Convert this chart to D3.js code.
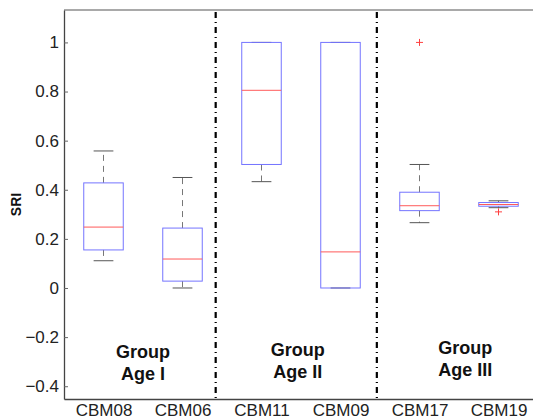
<!DOCTYPE html>
<html>
<head>
<meta charset="utf-8">
<script src="https://cdn.jsdelivr.net/npm/d3@7"></script>
<style>
  html, body { margin: 0; padding: 0; background: #fff; }
  svg { display: block; font-family: "Liberation Sans", Arial, Helvetica, sans-serif; }
</style>
</head>
<body>
<svg id="chart" width="533" height="419"></svg>
<script>
// Box plot summaries of SRI per specimen
const categories  = ["CBM08", "CBM06", "CBM11", "CBM09", "CBM17", "CBM19"];
const whiskerLow  = [0.111, 0.000, 0.433, 0.000, 0.266, 0.327];
const q1          = [0.155, 0.028, 0.503, 0.000, 0.315, 0.333];
const median      = [0.248, 0.118, 0.805, 0.147, 0.335, 0.340];
const q3          = [0.428, 0.244, 1.000, 1.000, 0.390, 0.348];
const whiskerHigh = [0.558, 0.450, 1.000, 1.000, 0.503, 0.355];
const outliers    = [[], [], [], [], [1.0], [0.31]];

const yTicks = [-0.4, -0.2, 0, 0.2, 0.4, 0.6, 0.8, 1];
const yLabel = "SRI";

// Group separators and group captions (in data units)
const separators  = [2.42, 4.46];
const groupNames  = [["Group", "Age I"], ["Group", "Age II"], ["Group", "Age III"]];
const groupX      = [1.5, 3.46, 5.58];
const groupY      = [-0.285, -0.275, -0.27];

const svg = d3.select("#chart");
const mLeft = 64, mRight = 538, mTop = 10, mBottom = 399;

const x = d3.scaleLinear().domain([0.5, categories.length + 0.5]).range([mLeft, mRight]);
const y = d3.scaleLinear().domain([-0.452, 1.132]).range([mBottom, mTop]);

const boxW = 0.5, capW = 0.25;
const rows = categories.map((c, i) => ({
  name: c, pos: i + 1,
  lo: whiskerLow[i], q1: q1[i], med: median[i], q3: q3[i], hi: whiskerHigh[i],
  out: outliers[i]
}));

// Axes frame
const frame = svg.append("g");
frame.append("line").attr("x1", mLeft).attr("x2", mRight).attr("y1", mTop).attr("y2", mTop)
  .attr("stroke", "#555").attr("stroke-width", 1.2);
frame.append("line").attr("x1", mRight).attr("x2", mRight).attr("y1", mTop).attr("y2", mBottom)
  .attr("stroke", "#555").attr("stroke-width", 1.2);

// Left y axis, ticks pointing inward
const yAxis = d3.axisLeft(y).tickValues(yTicks).tickSizeInner(-4).tickSizeOuter(0)
  .tickPadding(5).tickFormat(d => d < 0 ? "\u2212" + Math.abs(d) : String(d));
const gy = svg.append("g").attr("transform", `translate(${mLeft},0)`).call(yAxis);
gy.select(".domain").attr("stroke", "#444").attr("stroke-width", 1.3);
gy.selectAll(".tick line").attr("stroke", "#666");
gy.selectAll(".tick text").attr("font-size", 17).attr("fill", "#222")
  .attr("font-family", "'Liberation Sans', Arial, sans-serif");

// Mirrored ticks on the right edge
const yAxisR = d3.axisRight(y).tickValues(yTicks).tickSizeInner(-4).tickSizeOuter(0).tickFormat("");
const gyr = svg.append("g").attr("transform", `translate(${mRight},0)`).call(yAxisR);
gyr.select(".domain").remove();
gyr.selectAll(".tick line").attr("stroke", "#999");

// Bottom x axis with category labels
const xAxis = d3.axisBottom(x).tickValues(rows.map(r => r.pos))
  .tickFormat((d, i) => categories[i]).tickSize(0).tickPadding(5);
const gx = svg.append("g").attr("transform", `translate(0,${mBottom})`).call(xAxis);
gx.select(".domain").attr("stroke", "#444").attr("stroke-width", 1.3);
gx.selectAll(".tick text").attr("font-size", 17).attr("fill", "#222")
  .attr("font-family", "'Liberation Sans', Arial, sans-serif");

// Y label
svg.append("text")
  .attr("transform", `translate(21,${(mTop + mBottom) / 2}) rotate(-90)`)
  .attr("text-anchor", "middle").attr("font-weight", "bold").attr("font-size", 14)
  .attr("fill", "#111").text(yLabel);

// Boxes
const g = svg.append("g");
const box = g.selectAll("g.box").data(rows).join("g").attr("class", "box");

// dashed whiskers
box.append("line").attr("x1", d => x(d.pos)).attr("x2", d => x(d.pos))
  .attr("y1", d => y(d.q3)).attr("y2", d => y(d.hi))
  .attr("stroke", "#777").attr("stroke-dasharray", "6,5").attr("stroke-width", 1);
box.append("line").attr("x1", d => x(d.pos)).attr("x2", d => x(d.pos))
  .attr("y1", d => y(d.q1)).attr("y2", d => y(d.lo))
  .attr("stroke", "#777").attr("stroke-dasharray", "6,5").attr("stroke-width", 1);

// whisker caps
["hi", "lo"].forEach(k => {
  box.append("line")
    .attr("x1", d => x(d.pos - capW / 2)).attr("x2", d => x(d.pos + capW / 2))
    .attr("y1", d => y(d[k])).attr("y2", d => y(d[k]))
    .attr("stroke", "#555").attr("stroke-width", 1);
});

// box body
box.append("rect")
  .attr("x", d => x(d.pos - boxW / 2)).attr("width", d => x(d.pos + boxW / 2) - x(d.pos - boxW / 2))
  .attr("y", d => y(d.q3)).attr("height", d => y(d.q1) - y(d.q3))
  .attr("fill", "none").attr("stroke", "#7474ff").attr("stroke-width", 1);

// median
box.append("line")
  .attr("x1", d => x(d.pos - boxW / 2)).attr("x2", d => x(d.pos + boxW / 2))
  .attr("y1", d => y(d.med)).attr("y2", d => y(d.med))
  .attr("stroke", "#ff5a5a").attr("stroke-width", 1);

// outliers as red plus signs
box.each(function (d) {
  d3.select(this).selectAll("path.out").data(d.out).join("path").attr("class", "out")
    .attr("d", v => {
      const cx = x(d.pos), cy = y(v), s = 3.5;
      return `M${cx - s},${cy}H${cx + s}M${cx},${cy - s}V${cy + s}`;
    })
    .attr("stroke", "#ff4040").attr("stroke-width", 1).attr("fill", "none");
});

// Group separators (dash-dot)
svg.selectAll("line.sep").data(separators).join("line").attr("class", "sep")
  .attr("x1", d => x(d)).attr("x2", d => x(d))
  .attr("y1", mTop + 2).attr("y2", mBottom)
  .attr("stroke", "#000").attr("stroke-width", 2.2)
  .attr("stroke-dasharray", "6,4,1,4");

// Group captions
groupNames.forEach((lines, i) => {
  const t = svg.append("text").attr("text-anchor", "middle")
    .attr("font-weight", "bold").attr("font-size", 18).attr("fill", "#111");
  lines.forEach((ln, j) => {
    t.append("tspan").attr("x", x(groupX[i])).attr("y", y(groupY[i]) + j * 22).text(ln);
  });
});
</script>
</body>
</html>
